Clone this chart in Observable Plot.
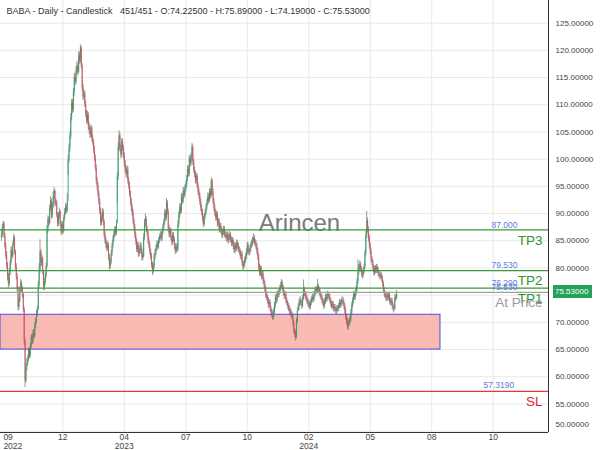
<!DOCTYPE html>
<html><head><meta charset="utf-8">
<script src="https://cdn.jsdelivr.net/npm/d3@7"></script>
<script src="https://cdn.jsdelivr.net/npm/@observablehq/plot@0.6"></script>
<style>body{margin:0;background:#fff} #chart{position:relative;width:600px;height:450px} #chart svg{display:block}
#tag{position:absolute;background:#22a35a;color:#fff;font:8px 'Liberation Sans',Arial,sans-serif;line-height:13px;height:13px;width:37px;padding-left:2px}</style>
</head><body><div id="chart"></div>
<script>
// ---------- data ----------
const symbol = "BABA";
const firstOpen = 85.5;
const closes = [
86.0, 87.2, 88.1, 85.9, 84.0, 82.3, 80.5, 78.2, 77.0, 79.1,
81.0, 83.2, 82.1, 84.3, 85.6, 82.9, 80.1, 78.4, 76.2, 72.8,
74.1, 75.9, 77.2, 76.0, 75.1, 72.3, 66.5, 59.2, 61.8, 62.6,
63.1, 64.8, 63.9, 65.7, 67.2, 66.4, 68.1, 67.5, 69.3, 70.2,
71.6, 72.4, 76.8, 79.5, 83.0, 80.9, 81.7, 79.2, 76.4, 77.3,
78.6, 80.2, 87.1, 88.9, 88.2, 91.0, 92.3, 89.6, 91.4, 93.2,
94.1, 91.8, 92.0, 89.7, 88.1, 89.5, 90.3, 88.0, 86.6, 87.9,
86.8, 89.1, 90.2, 91.1, 90.5, 92.2, 99.8, 101.9, 104.1, 107.6,
110.2, 109.1, 112.3, 115.0, 114.2, 116.3, 117.1, 116.0, 119.0, 118.2,
120.4, 117.2, 113.1, 111.4, 112.0, 110.1, 108.3, 107.0, 108.1, 106.0,
105.2, 104.4, 105.6, 103.8, 103.1, 101.7, 100.2, 98.4, 96.1, 95.0,
93.6, 92.1, 90.4, 88.2, 89.1, 90.3, 88.4, 86.1, 85.0, 84.2,
83.6, 84.1, 82.0, 80.3, 81.1, 82.6, 84.0, 85.2, 86.1, 87.0,
86.4, 88.1, 96.8, 102.2, 104.3, 101.9, 100.8, 103.1, 102.0, 100.6,
99.1, 98.0, 97.2, 98.1, 96.0, 95.1, 93.6, 92.2, 91.0, 90.1,
88.6, 87.4, 86.0, 84.9, 83.4, 84.1, 82.6, 83.0, 84.1, 83.2,
81.9, 82.1, 85.6, 88.2, 89.0, 87.1, 86.4, 85.0, 84.1, 83.0,
82.1, 80.6, 79.4, 80.3, 82.0, 82.8, 83.6, 84.4, 83.9, 85.0,
85.6, 86.1, 85.4, 86.6, 87.5, 88.4, 90.1, 89.2, 92.0, 90.3,
87.2, 86.1, 86.8, 85.5, 84.7, 86.0, 85.2, 84.0, 83.1, 83.8,
83.4, 88.0, 89.6, 91.1, 90.4, 93.0, 92.2, 94.1, 93.4, 94.6,
95.2, 96.4, 98.1, 97.3, 100.0, 99.2, 100.4, 102.2, 99.4, 98.0,
97.2, 96.0, 96.8, 95.1, 94.0, 93.2, 92.1, 91.0, 90.2, 89.1,
88.0, 89.4, 90.2, 91.1, 92.0, 93.1, 92.4, 94.0, 93.2, 96.0,
94.0, 92.2, 91.0, 90.1, 89.2, 89.8, 88.1, 88.6, 87.0, 87.6,
86.9, 86.0, 86.6, 87.1, 86.2, 86.0, 85.4, 86.1, 85.0, 85.6,
86.1, 85.2, 84.5, 85.0, 84.0, 83.2, 84.1, 83.5, 84.6, 84.0,
83.4, 83.0, 82.1, 82.5, 81.0, 80.2, 80.6, 81.4, 82.0, 82.9,
84.1, 83.0, 82.8, 83.6, 84.1, 84.6, 85.0, 85.6, 84.8, 84.4,
84.0, 83.0, 82.0, 80.1, 79.0, 79.8, 78.4, 78.9, 77.6, 77.0,
76.1, 75.0, 74.6, 74.0, 73.2, 73.6, 72.5, 71.8, 71.4, 71.0,
72.0, 73.1, 74.5, 74.0, 75.2, 75.0, 75.6, 76.2, 76.8, 77.1,
76.3, 75.4, 74.8, 75.1, 74.0, 73.5, 73.0, 72.6, 72.1, 71.8,
71.4, 71.0, 69.8, 68.4, 67.9, 67.4, 70.1, 72.0, 72.8, 73.6,
74.1, 73.5, 73.0, 74.4, 76.1, 75.2, 74.8, 74.4, 73.9, 73.5,
73.2, 72.9, 73.6, 74.1, 74.6, 74.2, 75.1, 75.6, 76.0, 75.8,
76.6, 76.0, 75.5, 75.0, 74.6, 74.0, 73.6, 73.0, 73.8, 74.6,
74.2, 75.1, 75.0, 74.6, 74.0, 73.4, 73.0, 73.3, 72.5, 72.8,
72.3, 72.0, 72.6, 72.5, 73.0, 73.6, 73.2, 73.8, 74.1, 73.6,
73.0, 72.1, 71.0, 70.2, 69.4, 69.8, 70.2, 70.6, 71.8, 73.1,
74.0, 75.1, 74.6, 75.4, 76.1, 77.5, 79.2, 80.0, 80.6, 79.8,
79.0, 78.6, 79.4, 80.1, 82.6, 86.0, 88.6, 87.0, 85.4, 84.1,
83.0, 81.6, 81.0, 80.0, 79.1, 79.8, 79.5, 80.1, 79.6, 79.0,
78.8, 78.4, 78.6, 78.0, 77.1, 76.0, 75.2, 74.9, 74.4, 74.8,
74.5, 75.0, 74.0, 73.6, 73.9, 73.0, 72.6, 72.4, 74.5, 74.225,
75.53
];
const highs = [
87.1, 88.0, 88.6, 88.5, 86.4, 84.6, 83.0, 81.0, 79.0, 79.8,
81.6, 83.9, 83.8, 84.8, 86.2, 85.9, 83.3, 80.8, 78.9, 76.6,
74.6, 76.5, 77.9, 77.6, 76.5, 75.4, 72.8, 67.0, 62.3, 63.4,
64.0, 65.3, 65.2, 66.2, 67.8, 67.7, 68.6, 68.7, 69.9, 70.8,
72.2, 73.0, 77.5, 80.8, 85.2, 83.4, 82.4, 82.0, 79.6, 78.0,
79.2, 80.9, 87.8, 89.6, 89.4, 91.6, 93.1, 92.7, 92.0, 94.0,
94.8, 94.4, 92.8, 92.4, 90.2, 90.1, 91.0, 90.6, 88.5, 88.6,
88.3, 89.7, 90.9, 91.8, 91.6, 93.7, 100.6, 102.8, 105.0, 108.4,
111.0, 110.9, 113.0, 115.8, 115.6, 117.0, 118.0, 117.6, 119.8, 119.6,
121.0, 120.8, 117.6, 113.8, 112.7, 112.5, 110.7, 109.0, 108.8, 108.6,
106.7, 106.0, 106.3, 106.0, 104.5, 103.6, 102.4, 100.8, 99.0, 96.7,
95.6, 94.2, 92.8, 91.0, 89.7, 90.9, 90.8, 88.9, 86.7, 85.6,
84.9, 84.8, 84.6, 82.5, 81.7, 83.2, 84.6, 85.9, 86.8, 87.6,
87.6, 88.8, 97.5, 103.0, 105.2, 104.8, 102.6, 103.8, 103.7, 102.5,
101.2, 99.8, 98.6, 98.8, 98.6, 96.6, 95.7, 94.2, 92.8, 91.6,
90.7, 89.2, 88.0, 86.6, 85.4, 84.8, 84.6, 83.6, 84.7, 84.6,
83.7, 82.7, 86.3, 88.9, 89.9, 89.4, 87.7, 86.9, 85.6, 84.6,
83.5, 82.6, 81.1, 80.9, 82.6, 83.4, 84.2, 85.0, 84.9, 85.6,
86.2, 86.7, 86.6, 87.2, 88.1, 89.0, 90.8, 90.6, 92.8, 92.4,
90.8, 87.8, 87.4, 87.3, 86.0, 86.6, 86.5, 85.7, 84.5, 84.4,
84.4, 88.7, 90.3, 91.8, 91.7, 93.7, 93.6, 94.8, 94.7, 95.3,
95.9, 97.0, 98.8, 98.7, 100.7, 100.6, 101.1, 102.9, 102.6, 100.0,
98.6, 97.8, 97.4, 97.3, 95.7, 94.6, 93.8, 92.7, 91.6, 90.8,
89.6, 90.0, 90.8, 91.7, 92.6, 93.8, 93.7, 94.6, 94.5, 96.6,
96.3, 94.6, 92.8, 91.6, 90.7, 90.4, 90.3, 89.1, 89.1, 88.2,
88.2, 87.4, 87.1, 87.7, 87.6, 86.7, 86.5, 86.7, 86.6, 86.2,
86.7, 86.5, 85.7, 85.6, 85.5, 84.5, 84.7, 84.6, 85.2, 85.0,
84.5, 83.9, 83.5, 83.1, 83.0, 81.5, 81.2, 82.0, 82.6, 83.5,
84.7, 84.6, 83.5, 84.2, 84.7, 85.2, 85.6, 86.3, 86.0, 85.3,
85.0, 84.5, 83.6, 82.5, 80.7, 80.4, 80.3, 79.5, 79.4, 78.2,
77.6, 76.6, 75.6, 75.1, 74.6, 74.2, 74.1, 73.0, 72.4, 72.0,
72.6, 73.7, 75.1, 75.0, 75.8, 75.8, 76.2, 76.8, 77.4, 77.9,
77.6, 76.8, 75.9, 75.7, 75.6, 74.5, 74.0, 73.5, 73.1, 72.6,
72.3, 71.9, 71.5, 70.3, 68.9, 68.5, 70.7, 72.6, 73.4, 74.2,
74.7, 74.6, 74.0, 75.0, 77.8, 76.5, 75.7, 75.3, 74.9, 74.4,
74.0, 73.7, 74.2, 74.7, 75.2, 75.1, 75.7, 76.2, 76.6, 76.5,
77.9, 77.0, 76.5, 76.0, 75.5, 75.1, 74.5, 74.1, 74.4, 75.2,
75.1, 75.7, 75.6, 75.5, 75.1, 74.5, 73.9, 73.9, 73.8, 73.3,
73.3, 72.8, 73.1, 73.1, 73.5, 74.2, 74.1, 74.3, 74.7, 74.6,
74.1, 73.5, 72.6, 71.5, 70.7, 70.3, 70.8, 71.2, 72.4, 73.7,
74.6, 75.7, 75.6, 76.0, 76.7, 78.1, 81.5, 80.7, 81.3, 81.1,
80.3, 79.6, 80.0, 80.7, 83.3, 86.8, 90.4, 89.2, 87.6, 86.0,
84.6, 83.5, 82.1, 81.5, 80.5, 80.4, 80.4, 80.7, 80.6, 80.1,
79.5, 79.3, 79.1, 79.1, 78.5, 77.6, 76.5, 75.7, 75.4, 75.3,
75.4, 75.6, 75.5, 74.5, 74.4, 74.4, 73.5, 73.1, 75.1, 75.0,
75.89
];
const lows = [
84.9, 85.6, 86.8, 85.4, 83.5, 81.6, 79.8, 77.6, 76.3, 76.6,
78.6, 80.5, 81.5, 81.8, 83.9, 82.4, 79.6, 77.8, 75.6, 72.1,
72.2, 73.6, 75.4, 75.4, 74.4, 71.8, 65.8, 58.0, 58.8, 61.0,
62.0, 62.8, 63.3, 63.5, 65.2, 65.9, 66.0, 67.0, 67.1, 68.8,
69.8, 71.0, 72.1, 76.3, 79.0, 80.3, 80.2, 78.7, 75.8, 75.9,
76.8, 78.1, 80.0, 86.4, 87.6, 87.9, 90.4, 89.0, 89.1, 90.9,
92.6, 91.2, 91.3, 89.2, 87.5, 87.6, 89.0, 87.5, 86.0, 86.1,
86.2, 86.4, 88.6, 89.7, 89.9, 90.2, 97.0, 99.2, 101.3, 103.6,
107.0, 108.4, 108.6, 111.6, 113.5, 113.7, 115.6, 115.3, 115.7, 117.5,
117.6, 116.6, 112.4, 110.8, 110.9, 109.5, 107.6, 106.4, 106.5, 105.3,
104.6, 103.8, 103.9, 103.2, 102.5, 101.0, 99.6, 97.8, 95.4, 94.3,
93.0, 91.5, 89.8, 87.6, 87.8, 88.6, 87.8, 85.5, 84.4, 83.5,
83.0, 83.1, 81.4, 79.6, 79.8, 80.6, 82.1, 83.5, 84.7, 85.6,
85.8, 86.0, 92.0, 96.0, 101.6, 101.3, 100.1, 100.3, 101.4, 100.0,
98.5, 97.4, 96.5, 96.6, 95.4, 94.4, 93.0, 91.5, 90.3, 89.4,
88.0, 86.8, 85.4, 84.2, 82.8, 82.9, 81.9, 82.1, 82.6, 82.5,
81.3, 81.3, 81.8, 85.1, 87.6, 86.5, 85.8, 84.4, 83.5, 82.4,
81.5, 80.0, 78.6, 78.9, 79.8, 81.5, 82.3, 83.1, 83.3, 83.5,
84.5, 85.1, 84.8, 84.9, 86.1, 87.0, 87.9, 88.6, 88.8, 89.7,
86.6, 85.5, 85.6, 85.0, 84.1, 84.2, 84.7, 83.4, 82.5, 82.6,
82.8, 83.0, 87.5, 89.0, 89.8, 90.0, 91.6, 91.8, 92.8, 93.0,
94.0, 94.7, 95.9, 96.7, 96.8, 98.6, 98.7, 99.9, 98.8, 97.4,
96.6, 95.4, 95.5, 94.5, 93.4, 92.6, 91.5, 90.4, 89.6, 88.5,
87.4, 87.6, 88.9, 89.7, 90.6, 91.5, 91.8, 92.0, 92.6, 92.9,
93.4, 91.6, 90.4, 89.5, 88.6, 88.7, 87.5, 87.6, 86.4, 86.5,
86.3, 85.4, 85.5, 86.0, 85.6, 85.4, 84.8, 84.9, 84.4, 84.5,
85.0, 84.6, 83.9, 84.0, 83.4, 82.6, 82.7, 82.9, 83.0, 83.4,
82.8, 82.4, 81.5, 81.6, 80.4, 79.5, 79.7, 80.1, 80.9, 81.5,
82.4, 82.4, 82.2, 82.3, 83.0, 83.6, 84.0, 84.5, 84.2, 83.8,
83.4, 82.4, 81.4, 79.5, 78.4, 78.5, 77.8, 77.9, 77.0, 76.4,
75.5, 74.4, 74.0, 73.4, 72.6, 72.7, 71.9, 71.2, 70.8, 70.3,
70.5, 71.5, 72.6, 73.4, 73.6, 74.5, 74.5, 75.1, 75.7, 76.3,
75.8, 74.9, 74.2, 74.3, 73.4, 73.0, 72.4, 72.0, 71.5, 71.2,
70.8, 70.4, 69.2, 67.8, 67.2, 66.6, 67.0, 69.7, 72.3, 72.2,
73.0, 73.0, 72.4, 72.6, 74.0, 74.7, 74.2, 73.8, 73.3, 72.9,
72.6, 72.3, 72.4, 73.1, 73.6, 73.6, 73.8, 74.6, 75.1, 75.2,
75.3, 75.4, 74.9, 74.4, 74.0, 73.4, 73.0, 72.4, 72.6, 73.3,
73.6, 73.8, 74.4, 74.0, 73.4, 72.8, 72.4, 72.5, 71.9, 72.0,
71.7, 71.4, 71.5, 71.9, 72.0, 72.5, 72.6, 72.7, 73.3, 73.0,
72.4, 71.5, 70.4, 69.6, 68.8, 68.5, 69.2, 69.6, 70.1, 71.3,
72.6, 73.5, 74.0, 74.1, 74.9, 75.6, 77.0, 78.6, 79.4, 79.2,
78.4, 78.0, 78.1, 78.9, 79.8, 82.2, 85.4, 86.4, 84.8, 83.5,
82.4, 81.0, 80.4, 79.4, 78.5, 78.6, 78.9, 79.0, 79.0, 78.4,
78.2, 77.8, 77.9, 77.4, 76.5, 75.4, 74.6, 74.3, 73.8, 73.9,
73.9, 74.0, 73.4, 73.0, 73.1, 72.4, 72.0, 71.7, 72.3, 73.8,
74.19
];
const lastOpen = 74.225, lastHigh = 75.89, lastLow = 74.19, lastClose = 75.53;

const xTickBars = [0, 70, 140, 210, 280, 350, 420, 490, 560];
const xTickLabels = ["09\n2022", "12", "04\n2023", "07", "10", "02\n2024", "05", "08", "10"];
const yTicks = [50, 55, 60, 65, 70, 75, 80, 85, 90, 95, 100, 105, 110, 115, 120, 125, 130];

const levelNames  = ["TP3", "TP2", "TP1", "At Price", "SL"];
const levelValues = [87.0, 79.53, 76.29, 75.53, 57.319];
const levelDigits = [3, 3, 3, 3, 4];
const levelColors = ["#3a983a", "#3a983a", "#3a983a", "#a0a0a0", "#e03a3a"];
const labelColors = ["#2f942f", "#2f942f", "#2f942f", "#9a9a9a", "#e02a2a"];

const zoneStartBar = -1, zoneEndBar = 500, zoneLow = 65.0, zoneHigh = 71.4;
const watermark = "Arincen";

// ---------- derived tables ----------
const bars = closes.map((c, i) => ({i, open: i === 0 ? firstOpen : closes[i - 1], close: c, high: highs[i], low: lows[i]}));
const levels = levelNames.map((n, k) => ({name: n, value: levelValues[k], digits: levelDigits[k], color: levelColors[k], lcolor: labelColors[k]}));
const zone = [{start: zoneStartBar, end: zoneEndBar, low: zoneLow, high: zoneHigh}];
const xt = xTickBars.map((b, k) => ({b, label: xTickLabels[k]}));
const fmt5 = d3.format(".5f");
const title = `${symbol} - Daily - Candlestick\u00a0\u00a0\u00a0${closes.length}/${closes.length} - O:${fmt5(lastOpen)} - H:${fmt5(lastHigh)} - L:${fmt5(lastLow)} - C:${fmt5(lastClose)}`;
// the axis label hidden beneath the current-price tag is not drawn
const yLabelTicks = yTicks.filter(v => Math.abs(v - lastClose) > 2);

const plot = Plot.plot({
  width: 600, height: 450,
  marginLeft: 0, marginRight: 52, marginTop: 0, marginBottom: 18,
  style: {fontFamily: "'Liberation Sans', Arial, sans-serif", background: "#fff"},
  x: {domain: [-1, 623], axis: null},
  y: {domain: [49.76, 129.17], axis: null},
  marks: [
    Plot.ruleY(yTicks, {stroke: "#e8e8e8"}),
    Plot.ruleX(xTickBars.slice(1), {stroke: "#e8e8e8"}),
    Plot.rect(zone, {x1: "start", x2: "end", y1: "low", y2: "high", fill: "#f9bab4", stroke: "#4b4be0", strokeWidth: 1}),
    Plot.ruleX(bars, {x: "i", y1: "low", y2: "high", stroke: "#4a4a4a", strokeWidth: 0.7, strokeOpacity: 0.8}),
    Plot.ruleX(bars, {x: "i", y1: "open", y2: "close", stroke: d => d.close >= d.open ? "#26a65b" : "#e5485a", strokeWidth: 0.9}),
    Plot.text([watermark], {frameAnchor: "middle", dx: 25, dy: 7, fontSize: 24, fill: "#7a7a7a"}),
    Plot.ruleY(levels, {y: "value", stroke: "color", strokeWidth: 1.2}),
    Plot.text(levels.filter(d => d.name !== "SL"), {y: "value", text: d => d.value.toFixed(d.digits), frameAnchor: "right", textAnchor: "start", dx: -57, dy: -5, fill: "#5b7ce0", fontSize: 8.5}),
    Plot.text(levels.filter(d => d.name === "SL"), {y: "value", text: d => d.value.toFixed(d.digits), frameAnchor: "right", textAnchor: "start", dx: -65, dy: -6, fill: "#5b7ce0", fontSize: 8.5}),
    Plot.text(levels, {y: "value", text: "name", frameAnchor: "right", textAnchor: "end", dx: -6, dy: 10.5, fill: "lcolor", fontSize: 13.5}),
    Plot.ruleX([623], {stroke: "#333", strokeWidth: 1}),
    Plot.ruleY([49.76], {stroke: "#333", strokeWidth: 1}),
    Plot.text(yLabelTicks.filter(v => v !== 50), {y: d => d, text: d => fmt5(d), frameAnchor: "right", textAnchor: "start", dx: 7, fill: "#444", fontSize: 8}),
    Plot.text(yLabelTicks.filter(v => v === 50), {y: d => d, text: d => fmt5(d), frameAnchor: "right", textAnchor: "start", dx: 7, dy: -7, fill: "#444", fontSize: 8}),
    Plot.text(xt.slice(1), {x: "b", text: "label", frameAnchor: "bottom", lineAnchor: "top", dy: 1, fill: "#444", fontSize: 8.5, lineHeight: 1.05}),
    Plot.text(xt.slice(0, 1), {x: "b", text: "label", frameAnchor: "bottom", lineAnchor: "top", textAnchor: "start", dx: 2, dy: 1, fill: "#444", fontSize: 8.5, lineHeight: 1.05}),
    Plot.text([title], {frameAnchor: "top-left", textAnchor: "start", lineAnchor: "middle", dx: 6, dy: 11, fill: "#333", fontSize: 9})
  ]
});
const chart = document.getElementById("chart");
chart.appendChild(plot);
// current-price tag on the price axis, positioned through the plot's own y scale
const yPix = plot.scale("y").apply(lastClose);
const tag = document.createElement("div");
tag.id = "tag";
tag.textContent = fmt5(lastClose);
tag.style.left = (600 - 52 + 5) + "px";
tag.style.top = (yPix - 6.5) + "px";
chart.appendChild(tag);
</script>
</body></html>
